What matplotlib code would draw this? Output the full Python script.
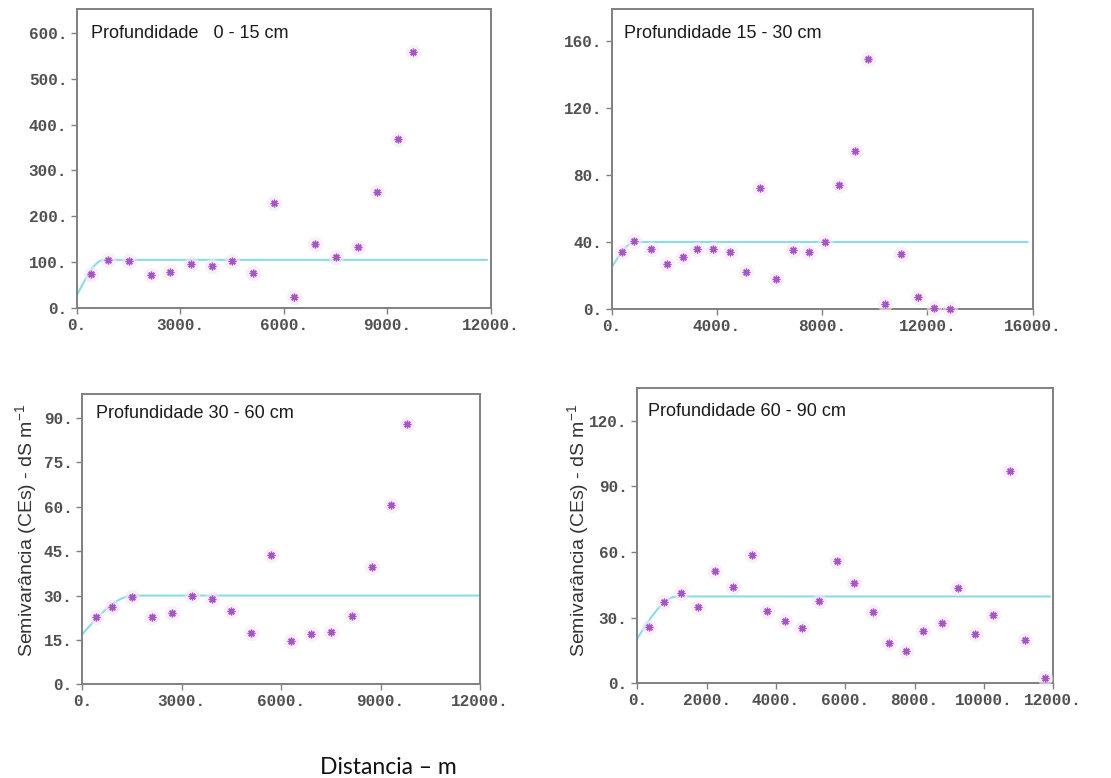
# =====================================================
# Semivariogramas da CEs em quatro profundidades
# =====================================================

import numpy as np
import matplotlib
matplotlib.use("Agg")
import matplotlib.pyplot as plt

# =====================================================
# 1. Dados
# =====================================================

dist_0_15 = [400, 900, 1500, 2150, 2700, 3300, 3900, 4500, 5100, 5700,
             6300, 6900, 7500, 8150, 8700, 9300, 9750]
semi_0_15 = [75, 105, 102, 72, 79, 95, 91, 103, 76, 230,
             25, 139, 112, 134, 252, 368, 559]

dist_15_30 = [400, 850, 1500, 2100, 2700, 3250, 3850, 4500, 5100, 5650, 6250,
              6900, 7500, 8100, 8650, 9250, 9750, 10400, 11000, 11650, 12250, 12850]
semi_15_30 = [34, 40.5, 36, 27, 31, 36, 36, 34, 22, 72, 18,
              35, 34, 40, 74, 94, 149, 3, 33, 7, 0.5, 0.3]

dist_30_60 = [400, 900, 1500, 2100, 2700, 3300, 3900, 4500, 5100, 5700,
              6300, 6900, 7500, 8150, 8750, 9300, 9800]
semi_30_60 = [22.6, 26.3, 29.4, 22.7, 24.2, 30, 29, 24.8, 17.5, 43.7,
              14.7, 17, 17.8, 23, 39.8, 60.5, 88]

dist_60_90 = [350, 770, 1250, 1750, 2250, 2750, 3300, 3750, 4250, 4750, 5250, 5750,
              6250, 6800, 7250, 7750, 8250, 8800, 9250, 9750, 10250, 10750, 11200, 11750]
semi_60_90 = [25.7, 37.4, 41.4, 34.7, 51.5, 44, 58.5, 33, 28.3, 25.4, 37.5, 56,
              46, 32.6, 18.6, 14.8, 24, 27.7, 43.6, 22.5, 31.3, 97, 19.6, 2.3]

# modelo esferico ajustado: efeito pepita, patamar, alcance, fim da linha
modelo_0_15 = (28, 105, 780, 11880)
modelo_15_30 = (25, 40, 900, 15800)
modelo_30_60 = (17, 30, 1550, 11950)
modelo_60_90 = (20.5, 39.7, 1150, 11900)

titulos = ["Profundidade   0 - 15 cm", "Profundidade 15 - 30 cm",
           "Profundidade 30 - 60 cm", "Profundidade 60 - 90 cm"]

xticks_list = [[0, 3000, 6000, 9000, 12000],
               [0, 4000, 8000, 12000, 16000],
               [0, 3000, 6000, 9000, 12000],
               [0, 2000, 4000, 6000, 8000, 10000, 12000]]
yticks_list = [[0, 100, 200, 300, 400, 500, 600],
               [0, 40, 80, 120, 160],
               [0, 15, 30, 45, 60, 75, 90],
               [0, 30, 60, 90, 120]]

# =====================================================
# 2. Funcao do modelo esferico
# =====================================================

def esferico(h, c0, sill, a):
    h = np.asarray(h, dtype=float)
    g = c0 + (sill - c0) * (1.5 * h / a - 0.5 * (h / a) ** 3)
    return np.where(h < a, g, sill)

# =====================================================
# 3. Figura
# =====================================================

plt.rcParams["font.family"] = ["Liberation Sans", "DejaVu Sans"]
plt.rcParams["mathtext.fontset"] = "custom"
plt.rcParams["mathtext.rm"] = "Liberation Sans"
plt.rcParams["mathtext.default"] = "regular"

fig = plt.figure(figsize=(11.11, 7.78), dpi=100)

posicoes = [[0.0693, 0.6041, 0.3726, 0.3837],
            [0.5506, 0.6028, 0.3789, 0.3856],
            [0.0741, 0.1202, 0.3580, 0.3734],
            [0.5736, 0.1217, 0.3744, 0.3796]]
xlims = [12000, 16000, 12000, 12000]
ylims = [651, 179, 98, 135]
# posicao do titulo dentro de cada painel (coordenadas do eixo)
titulo_pos = [(0.033, 0.905), (0.028, 0.902), (0.034, 0.916), (0.025, 0.905)]

dados = [(dist_0_15, semi_0_15, modelo_0_15),
         (dist_15_30, semi_15_30, modelo_15_30),
         (dist_30_60, semi_30_60, modelo_30_60),
         (dist_60_90, semi_60_90, modelo_60_90)]

cor_ponto = "#a655c4"
cor_linha = "#8adde6"
cor_eixo = "#808080"
cor_tick = "#505050"

for i, (dist, semi, modelo) in enumerate(dados):
    ax = fig.add_axes(posicoes[i])
    c0, sill, alcance, fim = modelo

    h = np.linspace(0, fim, 400)
    ax.plot(h, esferico(h, c0, sill, alcance), color=cor_linha, lw=1.5, zorder=2)

    # brilho rosado bem leve em volta dos asteriscos
    ax.plot(dist, semi, "o", ms=11, color="#f7e4f7", alpha=0.6,
            mec="none", zorder=3, clip_on=False)
    ax.plot(dist, semi, marker=(8, 2, 0), ls="none", ms=5.5, mew=1.0,
            color=cor_ponto, zorder=4, clip_on=False)

    ax.set_xlim(0, xlims[i])
    ax.set_ylim(0, ylims[i])
    ax.set_xticks(xticks_list[i])
    ax.set_yticks(yticks_list[i])
    ax.set_xticklabels([f"{v}." for v in xticks_list[i]])
    ax.set_yticklabels([f"{v}." for v in yticks_list[i]])

    for lab in ax.get_xticklabels() + ax.get_yticklabels():
        lab.set_fontfamily("Liberation Mono")
        lab.set_fontweight("bold")
        lab.set_fontsize(11.5)
        lab.set_color(cor_tick)

    ax.tick_params(direction="out", length=4, width=1, color=cor_eixo, pad=3)
    for sp in ax.spines.values():
        sp.set_color(cor_eixo)
        sp.set_linewidth(1.4)

    tx, ty = titulo_pos[i]
    ax.text(tx, ty, titulos[i], transform=ax.transAxes,
            fontsize=13, color="#1a1a1a", ha="left", va="baseline")

# =====================================================
# 4. Rotulos
# =====================================================

rotulo_y = "Semivarância (CEs) - dS m$^{-1}$"
fig.text(26 / 1111, 1 - 530 / 778, rotulo_y, rotation=90, fontsize=14,
         color="#333333", ha="center", va="center")
fig.text(578 / 1111, 1 - 530 / 778, rotulo_y, rotation=90, fontsize=14,
         color="#333333", ha="center", va="center")

fig.text(388 / 1111, 1 - 767 / 778, "Distancia – m", fontsize=16.5,
         family=["Lato", "DejaVu Sans"], color="#111111",
         ha="center", va="center")

plt.savefig("out.png", dpi=100)
